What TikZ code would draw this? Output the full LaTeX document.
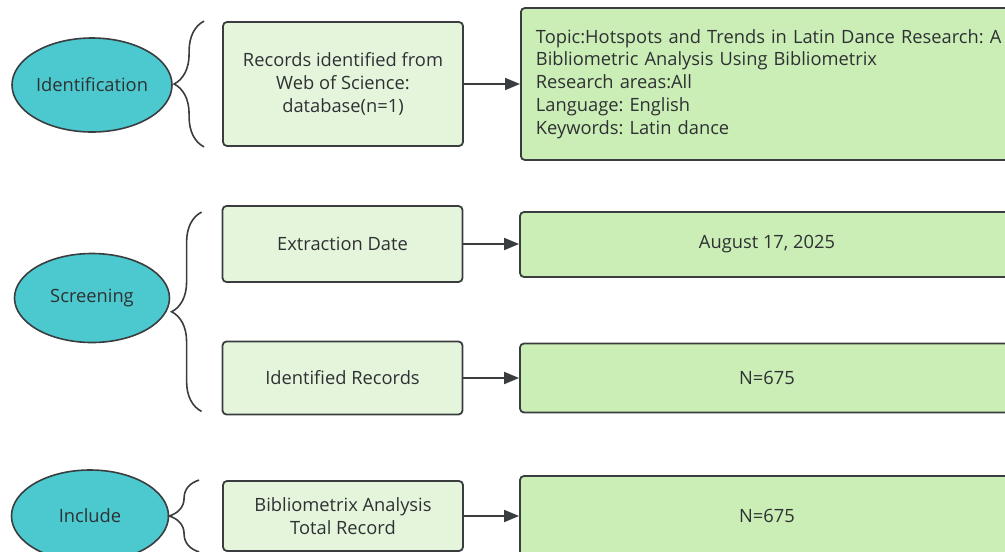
\documentclass[tikz,border=0pt]{standalone}
\usepackage{fontspec}
\setmainfont{Open Sans}
\frenchspacing
\usetikzlibrary{shapes.geometric,arrows.meta,decorations.pathreplacing,calc}

\definecolor{tuerkis}{HTML}{4CC9CF}
\definecolor{hellgruen}{HTML}{E5F5DC}
\definecolor{gruen}{HTML}{CBEDB6}
\definecolor{rand}{HTML}{3A3D3F}
\definecolor{schrift}{HTML}{2E3133}

\begin{document}
\begin{tikzpicture}[x=1pt,y=-1pt,
  every node/.style={font=\fontsize{18.3pt}{22.8pt}\selectfont,text=schrift},
  stufe/.style={ellipse,draw=rand,line width=1.6pt,fill=tuerkis,inner sep=0pt},
  quelle/.style={draw=rand,line width=1.8pt,fill=hellgruen,rounded corners=4pt,
    minimum width=240pt,align=center,inner sep=0pt},
  ergebnis/.style={draw=rand,line width=1.8pt,fill=gruen,rounded corners=4pt,
    minimum width=494pt,align=center,inner sep=0pt},
  pfeil/.style={draw=rand,line width=1.8pt,-{Triangle[length=15pt,width=12pt]}},
  klammer/.style={draw=rand,line width=1.6pt,decorate,
    decoration={brace,amplitude=30pt}}]

\useasboundingbox (0,0) rectangle (1005,552);
\clip (0,0) rectangle (1005,552);

%ABSCHNITT NR. 0 (von oben)

%STUFE
\node[stufe,minimum width=160pt,minimum height=94pt] (ident) at (92,85) {Identification};

%QUELLE
\node[quelle,minimum height=124pt] (rec) at (343,84) {Records identified from\\Web of Science:\\database(n=1)};
\draw[klammer] ($(rec.south west)+(-18,0)$) -- ($(rec.north west)+(-18,0)$);

%ERGEBNIS
\node[ergebnis,anchor=west,minimum height=152pt,align=left,text width=480pt,inner xsep=15pt] (topic) at (520,84) {Topic:Hotspots and Trends in Latin Dance Research: A\\Bibliometric Analysis Using Bibliometrix\\Research areas:All\\Language: English\\Keywords: Latin dance};
\draw[pfeil] (rec.east) -- (rec.east -| topic.west);




%ABSCHNITT NR. 1 (von oben)

%STUFE
\node[stufe,minimum width=155pt,minimum height=89pt] (screen) at (92,298) {Screening};

%QUELLE
\node[quelle,minimum height=76pt] (extr) at (342.5,244) {Extraction Date};
\node[quelle,minimum height=73pt] (ident2) at (342.5,378) {Identified Records};
\draw[klammer] ($(ident2.south west)+(-20,-4)$) -- ($(extr.north west)+(-20,7)$);

%ERGEBNIS
\node[ergebnis,minimum height=65pt] (date) at (767,244.5) {August 17, 2025};
\node[ergebnis,minimum height=69pt] (num) at (767,378) {N=675};
\draw[pfeil] (extr.east) -- (extr.east -| date.west);
\draw[pfeil] (ident2.east) -- (ident2.east -| num.west);




%ABSCHNITT NR. 2 (von oben)

%STUFE
\node[stufe,minimum width=157pt,minimum height=92pt] (incl) at (90,516) {Include};

%QUELLE
\node[quelle,minimum height=70pt] (total) at (343,516) {Bibliometrix Analysis\\Total Record};
\draw[klammer] ($(total.south west)+(-23,0)$) -- ($(total.north west)+(-23,0)$);

%ERGEBNIS
\node[ergebnis,minimum height=80pt] (final) at (767,516) {N=675};
\draw[pfeil] (total.east) -- (total.east -| final.west);

\end{tikzpicture}
\end{document}
